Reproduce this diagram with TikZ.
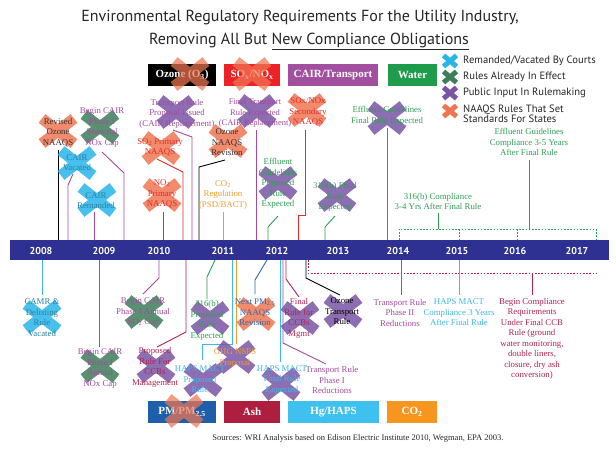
\documentclass[tikz,border=0pt]{standalone}
\usepackage{fontspec}
\setmainfont{Liberation Serif}
\newfontfamily\sansf{PT Sans}
\definecolor{cBar}{HTML}{2E3192}
\definecolor{cPur}{HTML}{A34A9E}
\definecolor{cRed}{HTML}{E42A2A}
\definecolor{cGrn}{HTML}{2E9E54}
\definecolor{cOrg}{HTML}{F39A2E}
\definecolor{cCyn}{HTML}{3DB8E8}
\definecolor{cCrm}{HTML}{B3234F}
\definecolor{cBlu}{HTML}{2F68B0}
\definecolor{cDrk}{HTML}{333333}
\definecolor{xCyan}{HTML}{29B5EA}
\definecolor{xGreen}{HTML}{3E7D5A}
\definecolor{xPurple}{HTML}{7B55A5}
\definecolor{xOrange}{HTML}{F07653}
\definecolor{bSox}{HTML}{EC2227}
\definecolor{bCair}{HTML}{A24F9F}
\definecolor{bWater}{HTML}{1E9B4B}
\definecolor{bPM}{HTML}{1D5FAA}
\definecolor{bAsh}{HTML}{AE1E3E}
\definecolor{bHg}{HTML}{3EC1EE}
\definecolor{bCO}{HTML}{F6961E}
\newcommand\bigx[4][.85]{\begin{scope}[shift={(#3,#4)}]\draw[line width=11pt,color=#2,opacity=#1] (-16,-12.5) -- (16,12.5) (-16,12.5) -- (16,-12.5);\end{scope}}
\newcommand\smallx[3]{\begin{scope}[shift={(#2,#3)}]\draw[line width=5pt,color=#1] (-6.5,-5.5) -- (6.5,5.5) (-6.5,5.5) -- (6.5,-5.5);\end{scope}}
\tikzset{
  lbl/.style={font=\fontsize{8.8}{10.5}\selectfont, align=center, inner sep=0pt},
  cat/.style={font=\bfseries\fontsize{11}{13}\selectfont, text=white, minimum height=22pt, inner sep=0pt},
  yr/.style={font=\sansf\bfseries\fontsize{10}{12}\selectfont, text=white},
  leg/.style={font=\sansf\fontsize{10.6}{9.5}\selectfont, anchor=west, align=left, inner sep=0pt, text=black!85},
  conn/.style={line width=0.9pt},
  dotl/.style={line width=0.9pt, dash pattern=on 1.6pt off 1.6pt},
}
\begin{document}
\begin{tikzpicture}[x=1pt,y=-1pt]
\useasboundingbox (0,0) rectangle (616,451);
\fill[white] (0,0) rectangle (616,451);

% title
\node[font=\sansf\fontsize{16}{19}\selectfont, text=black!85] (t1) at (300,18) {Environmental Regulatory Requirements For the Utility Industry,};
\node[font=\sansf\fontsize{16}{19}\selectfont, text=black!85] (t2) at (309,41) {Removing All But \underline{New Compliance Obligations}};

% timeline bar
\node[fill=cBar, minimum width=599pt, minimum height=20pt, inner sep=0pt] (bar) at (309.5,250) {};
\foreach \x/\y in {41/2008,104/2009,159/2010,223/2011,277/2012,338/2013,398/2014,457/2015,515/2016,577/2017}
  \node[yr] (y\y) at (\x,251) {\y};

% dotted brackets
\draw[dotl, cGrn] (399,240) -- (399,229) -- (596,229) -- (596,240);
\draw[dotl, cGrn] (459,229) -- (459,240) (517,229) -- (517,240);
\draw[dotl, cCrm] (308,260) -- (308,273) -- (598,273);

% ---------- upper connectors
\draw[conn, black] (58,150) -- (58,240);
\draw[conn, cPur] (102,152) -- (124,173) -- (124,240);
\draw[conn, cPur] (73,174) -- (68,185) -- (68,240);
\draw[conn, cPur] (94,212) -- (94,240);
\draw[conn, cPur] (173,130) -- (192,137) -- (192,240);
\draw[conn, cRed] (157,159) -- (183,172) -- (183,240);
\draw[conn, cRed] (163,212) -- (163,240);
\draw[conn, black] (225,160) -- (199,167) -- (199,240);
\draw[conn, cOrg] (223,212) -- (223,240);
\draw[conn, cPur] (256,130) -- (256,240);
\draw[conn, cRed] (305,130) -- (305,215) -- (298,215) -- (298,240);
\draw[conn, cGrn] (278,216) -- (268,227) -- (268,240);
\draw[conn, cGrn] (335,216) -- (325,227) -- (325,240);
\draw[conn, cGrn] (387,128) -- (387,240);
\draw[conn, cGrn] (529,160) -- (529,229);
\draw[conn, cGrn] (438,213) -- (438,229);

% ---------- lower connectors
\draw[conn, cCyn] (42,260) -- (42,295);
\draw[conn, cPur] (99,260) -- (99,347);
\draw[conn, cPur] (159,260) -- (159,278) -- (143,294);
\draw[conn, cCrm] (186,260) -- (186,332) -- (157,347);
\draw[conn, cGrn] (215,260) -- (207,277) -- (207,299);
\draw[conn, cCyn] (232,260) -- (232,344) -- (202,344) -- (202,360);
\draw[conn, cOrg] (236,260) -- (236,344);
\draw[conn, cBlu] (267,260) -- (255,280) -- (255,294);
\draw[conn, cCyn] (280,260) -- (280,362);
\draw[conn, cPur] (283,260) -- (283,343) -- (326,364);
\draw[conn, cCrm] (286,260) -- (286,279) -- (299,297);
\draw[conn, black] (306,260) -- (306,278) -- (340,295);
\draw[conn, cPur] (401,260) -- (401,295);
\draw[conn, cCyn] (459,260) -- (459,295);
\draw[conn, cCrm] (532,273) -- (532,295);

% ---------- category boxes
\node[cat, fill=black, minimum width=68pt] (bOz) at (182,75) {Ozone (O\textsubscript{3})};
\node[cat, fill=bSox, minimum width=56pt] (bSx) at (252,75) {SO\textsubscript{x}/NO\textsubscript{x}};
\node[cat, fill=bCair, minimum width=90pt] (bCa) at (333,75) {CAIR/Transport};
\node[cat, fill=bWater, minimum width=49pt] (bWa) at (412.5,75) {Water};
\node[cat, fill=bPM, minimum width=68pt] (bPm) at (182,412) {PM/PM\textsubscript{2.5}};
\node[cat, fill=bAsh, minimum width=56pt] (bAs) at (252,412) {Ash};
\node[cat, fill=bHg, minimum width=91pt] (bHg) at (333.5,412) {Hg/HAPS};
\node[cat, fill=bCO, minimum width=50pt] (bCo) at (412,412) {CO\textsubscript{2}};
\bigx[.72]{xOrange}{190}{74}
\bigx[.72]{xOrange}{252}{74}
\bigx[.72]{xOrange}{184}{411}

% ---------- legend
\smallx{xCyan}{450}{61}
\smallx{xGreen}{450}{77}
\smallx{xPurple}{450}{93}
\smallx{xOrange}{450}{111}
\node[leg] (g1) at (463,61) {Remanded/Vacated By Courts};
\node[leg] (g2) at (463,77) {Rules Already In Effect};
\node[leg] (g3) at (463,93) {Public Input In Rulemaking};
\node[leg] (g4) at (463,114) {NAAQS Rules That Set\\Standards For States};

% ---------- crosses behind labels
\bigx{xOrange}{58}{131}
\bigx{xGreen}{100}{127}
\bigx{xCyan}{77}{163}
\bigx{xCyan}{97}{200}
\bigx{xPurple}{176}{112}
\bigx{xOrange}{161}{148}
\bigx{xOrange}{162}{195}
\bigx{xOrange}{228}{141}
\bigx{xPurple}{257}{111}
\bigx{xOrange}{307}{110}
\bigx{xPurple}{278}{183}
\bigx{xPurple}{337}{195}
\bigx{xPurple}{387}{118}
\bigx{xCyan}{42}{317}
\bigx{xGreen}{100}{366}
\bigx{xGreen}{144}{312}
\bigx{xPurple}{156}{366}
\bigx{xPurple}{210}{318}
\bigx{xPurple}{203}{380}
\bigx{xPurple}{236}{357}
\bigx{xOrange}{256}{314}
\bigx{xPurple}{300}{318}
\bigx{xPurple}{343}{311}
\bigx{xPurple}{281}{384}

% ---------- upper labels
\node[lbl, text=cDrk] (u1) at (58,132.5) {Revised\\Ozone\\NAAQS};
\node[lbl, text=cPur] (u2) at (102,127.5) {Begin CAIR\\Phase I\\Seasonal\\NOx Cap};
\node[lbl, text=cCyn!70!black] (u3) at (77,162.5) {CAIR\\Vacated};
\node[lbl, text=cCyn!70!black] (u4) at (96,200.5) {CAIR\\Remanded};
\node[lbl, text=cPur] (u5) at (177,113.5) {Transport Rule\\Proposal Issued\\(CAIR Replacement)};
\node[lbl, text=cRed] (u6) at (160,147.5) {SO\textsubscript{2} Primary\\NAAQS};
\node[lbl, text=cRed] (u7) at (162,194) {NO\textsubscript{2}\\Primary\\NAAQS};
\node[lbl, text=cDrk] (u8) at (227,142.5) {Ozone\\NAAQS\\Revision};
\node[lbl, text=cOrg] (u9) at (223,195) {CO\textsubscript{2}\\Regulation\\(PSD/BACT)};
\node[lbl, text=cPur, font=\fontsize{8.5}{10.5}\selectfont] (u10) at (255,113) {Final Transport\\Rule Expected\\(CAIR Replacement)};
\node[lbl, text=cRed] (u11) at (308,112) {SOx/NOx\\Secondary\\NAAQS};
\node[lbl, text=cGrn] (u12) at (278,183.5) {Effluent\\Guidelines\\Proposed\\Rule\\Expected};
\node[lbl, text=cGrn] (u13) at (335,197) {316(b) Final\\Rule\\Expected};
\node[lbl, text=cGrn] (u14) at (387,116) {Effluent Guidelines\\Final Rule Expected};
\node[lbl, text=cGrn] (u15) at (529,142) {Effluent Guidelines\\Compliance 3-5 Years\\After Final Rule};
\node[lbl, text=cGrn] (u16) at (438,201.5) {316(b) Compliance\\3-4 Yrs After Final Rule};

% ---------- lower labels
\node[lbl, text=cCyn!70!black] (l1) at (42,317.5) {CAMR \&\\Delisting\\Rule\\Vacated};
\node[lbl, text=cPur] (l2) at (100,368.5) {Begin CAIR\\Phase I\\Annual\\NOx Cap};
\node[lbl, text=cPur] (l3) at (143,312.5) {Begin CAIR\\Phase I Annual\\SO\textsubscript{2} Cap};
\node[lbl, text=cCrm] (l4) at (155,367.5) {Proposed\\Rule For\\CCBs\\Management};
\node[lbl, text=cGrn] (l5) at (207,320.5) {316(b)\\Proposed\\Rule\\Expected};
\node[lbl, text=cCyn] (l6) at (200,379.5) {HAPS MACT\\Proposed\\Rule};
\node[lbl, text=cOrg] (l7) at (235,358) {GHG NSPS\\Proposal};
\node[lbl, text=cBlu] (l8) at (255,312.5) {Next PM\textsubscript{2.5}\\NAAQS\\Revision};
\node[lbl, text=cCrm] (l9) at (299,318.5) {Final\\Rule for\\CCBs\\Mgmt};
\node[lbl, text=black] (l10) at (342,311.5) {Ozone\\Transport\\Rule};
\node[lbl, text=cCyn] (l11) at (282,380) {HAPS MACT\\Final Rule\\Expected};
\node[lbl, text=cPur] (l12) at (332,380) {Transport Rule\\Phase I\\Reductions};
\node[lbl, text=cPur] (l13) at (400,312.5) {Transport Rule\\Phase II\\Reductions};
\node[lbl, text=cCyn] (l14) at (459,312.5) {HAPS MACT\\Compliance 3 Years\\After Final Rule};
\node[lbl, text=cCrm] (l15) at (532,339) {Begin Compliance\\Requirements\\Under Final CCB\\Rule (ground\\water monitoring,\\double liners,\\closure, dry ash\\conversion)};

% sources
\node[font=\fontsize{8.5}{10}\selectfont, text=black!85] (src) at (358,438) {Sources: WRI Analysis based on Edison Electric Institute 2010, Wegman, EPA 2003.};
\end{tikzpicture}
\end{document}
